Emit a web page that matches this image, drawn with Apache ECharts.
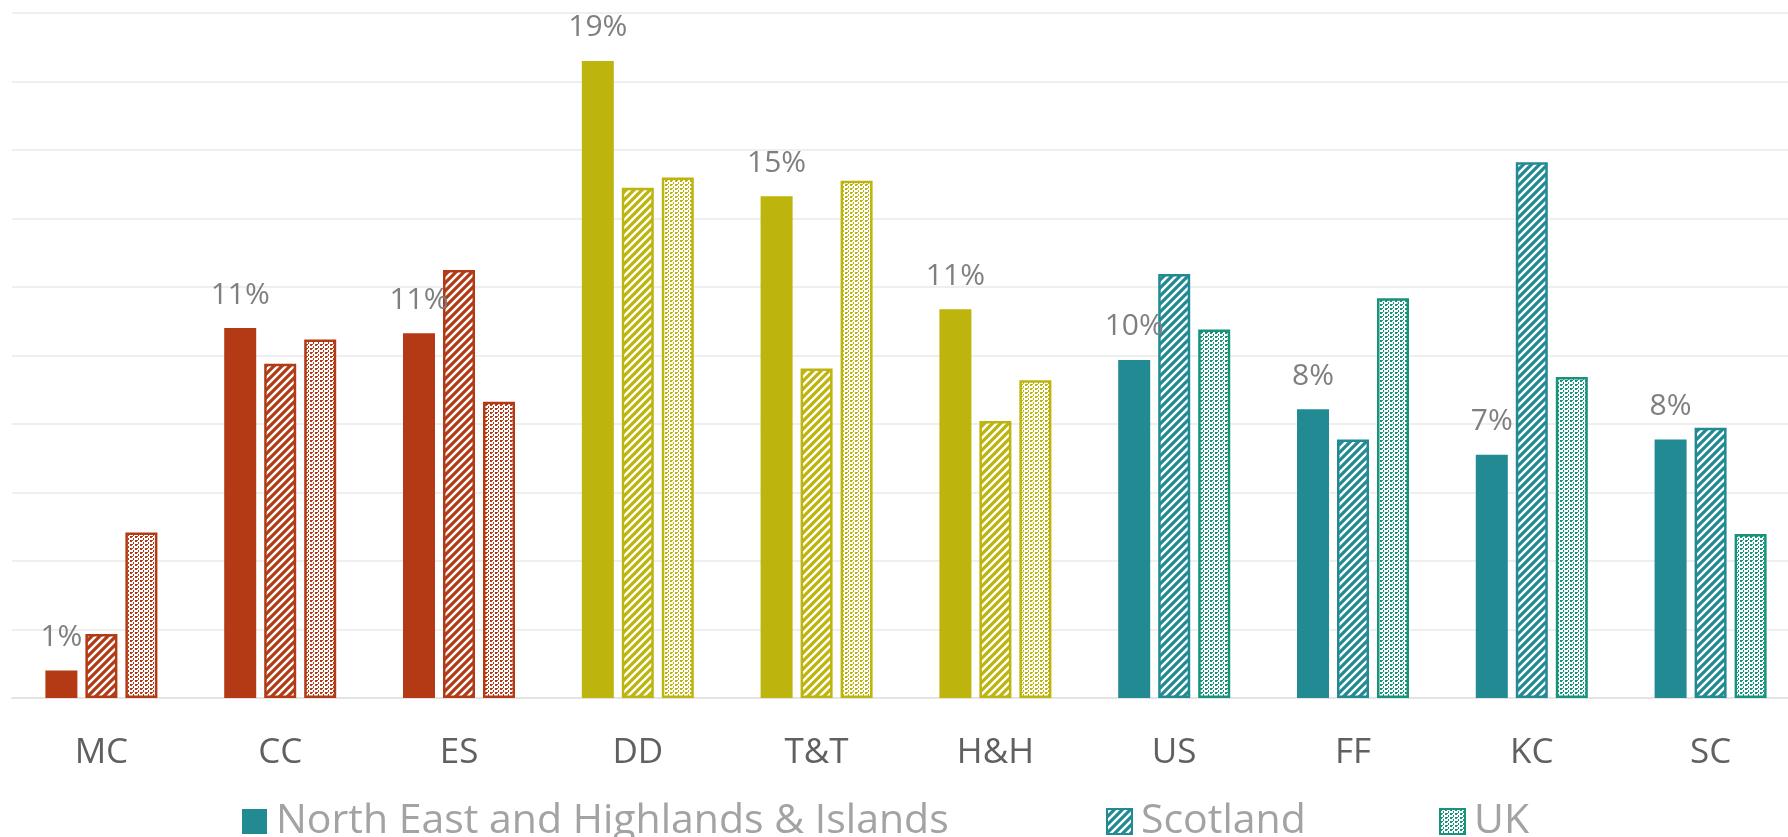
<!DOCTYPE html>
<html lang="en">
  <head>
    <meta charset="UTF-8" />
    <title>Sector shares</title>
    <script src="https://cdn.jsdelivr.net/npm/echarts@6/dist/echarts.min.js"></script>
    <style>
      html, body { margin: 0; padding: 0; background: #fff; }
    </style>
  </head>
  <body>
    <div id="main" style="width: 1788px; height: 837px"></div>
    <script>
      // categories and the three series (percent)
      var categories = ["MC", "CC", "ES", "DD", "T&T", "H&H", "US", "FF", "KC", "SC"];
      var neHI = [0.8, 10.8, 10.65, 18.6, 14.65, 11.35, 9.87, 8.43, 7.1, 7.55];
      var scotland = [1.87, 9.76, 12.5, 14.9, 9.62, 8.09, 12.38, 7.55, 15.64, 7.89];
      var uk = [4.83, 10.47, 8.65, 15.2, 15.1, 9.28, 10.76, 11.67, 9.37, 4.79];
      var seriesNames = ["North East and Highlands & Islands", "Scotland", "UK"];
      // colour group for each category: 0 rust, 1 olive, 2 teal
      var groupOf = [0, 0, 0, 1, 1, 1, 2, 2, 2, 2];

      var solidColors = ["#B33A15", "#BDB40E", "#228A93"];
      var ukColors = ["#B33A15", "#BDB40E", "#17937C"];

      // diagonal hatch pattern
      function hatch(color) {
        var c = document.createElement("canvas");
        c.width = 8;
        c.height = 8;
        var ctx = c.getContext("2d");
        ctx.fillStyle = "#fff";
        ctx.fillRect(0, 0, 8, 8);
        ctx.strokeStyle = color;
        ctx.lineWidth = 3.2;
        ctx.beginPath();
        ctx.moveTo(-2, 10); ctx.lineTo(10, -2);
        ctx.moveTo(-6, 6); ctx.lineTo(6, -6);
        ctx.moveTo(2, 14); ctx.lineTo(14, 2);
        ctx.stroke();
        return { image: c, repeat: "repeat" };
      }
      // small dot pattern, in columns
      function dots(color) {
        var c = document.createElement("canvas");
        c.width = 5;
        c.height = 4;
        var ctx = c.getContext("2d");
        ctx.fillStyle = "#fff";
        ctx.fillRect(0, 0, 5, 4);
        ctx.fillStyle = color;
        ctx.fillRect(0, 0, 2, 2);
        ctx.fillRect(3, 2, 1, 2);
        ctx.fillRect(2, 0, 1, 1);
        return { image: c, repeat: "repeat" };
      }

      function solidItems(vals) {
        return vals.map(function (v, i) {
          return { value: v, itemStyle: { color: solidColors[groupOf[i]] } };
        });
      }
      function hatchItems(vals) {
        return vals.map(function (v, i) {
          var col = solidColors[groupOf[i]];
          return { value: v, itemStyle: { color: hatch(col), borderColor: col, borderWidth: 2.5 } };
        });
      }
      function dotItems(vals) {
        return vals.map(function (v, i) {
          var col = ukColors[groupOf[i]];
          return { value: v, itemStyle: { color: dots(col), borderColor: col, borderWidth: 2.5 } };
        });
      }

      var font = "'Open Sans', 'Noto Sans', sans-serif";
      // one legend per entry so each sits where it does in the original
      var legendIcons = [
        { color: "#228A93" },
        { color: hatch("#228A93"), borderColor: "#228A93", borderWidth: 2 },
        { color: dots("#17937C"), borderColor: "#17937C", borderWidth: 2 },
      ];
      var legendLeft = [237, 1101, 1434];
      var legends = seriesNames.map(function (name, i) {
        return {
          top: 796,
          left: legendLeft[i],
          itemWidth: 25,
          itemHeight: 25,
          textStyle: { fontFamily: font, fontSize: 41, color: "#A3A3A3", padding: [0, 0, 0, 4] },
          data: [{ name: name, icon: "rect", itemStyle: legendIcons[i] }],
        };
      });

      var myChart = echarts.init(document.getElementById("main"));
      var option = {
        animation: false,
        grid: { left: 12, right: -12, top: 13, bottom: 139, outerBoundsMode: "none" },
        legend: legends,
        xAxis: {
          type: "category",
          data: categories,
          axisTick: { show: false },
          axisLine: { lineStyle: { color: "#E4E4E4", width: 2 } },
          axisLabel: { fontFamily: font, fontSize: 35, color: "#606060", margin: 38 },
        },
        yAxis: {
          type: "value",
          min: 0,
          max: 20,
          interval: 2,
          axisLabel: { show: false },
          axisLine: { show: false },
          axisTick: { show: false },
          splitLine: { lineStyle: { color: "#EFEFEF", width: 2 } },
        },
        series: [
          {
            name: seriesNames[0],
            type: "bar",
            barWidth: 32,
            barGap: "25%",
            itemStyle: { color: "#228A93" },
            data: solidItems(neHI),
            label: {
              show: true,
              position: "top",
              distance: 18,
              fontFamily: font,
              fontSize: 30,
              color: "#7F7F7F",
              formatter: function (p) {
                return Math.round(p.value) + "%";
              },
            },
          },
          {
            name: seriesNames[1],
            type: "bar",
            barWidth: 32,
            barGap: "25%",
            itemStyle: { color: hatch("#228A93"), borderColor: "#228A93", borderWidth: 2.5 },
            data: hatchItems(scotland),
          },
          {
            name: seriesNames[2],
            type: "bar",
            barWidth: 32,
            barGap: "25%",
            itemStyle: { color: dots("#17937C"), borderColor: "#17937C", borderWidth: 2.5 },
            data: dotItems(uk),
          },
        ],
      };
      myChart.setOption(option);
    </script>
  </body>
</html>
